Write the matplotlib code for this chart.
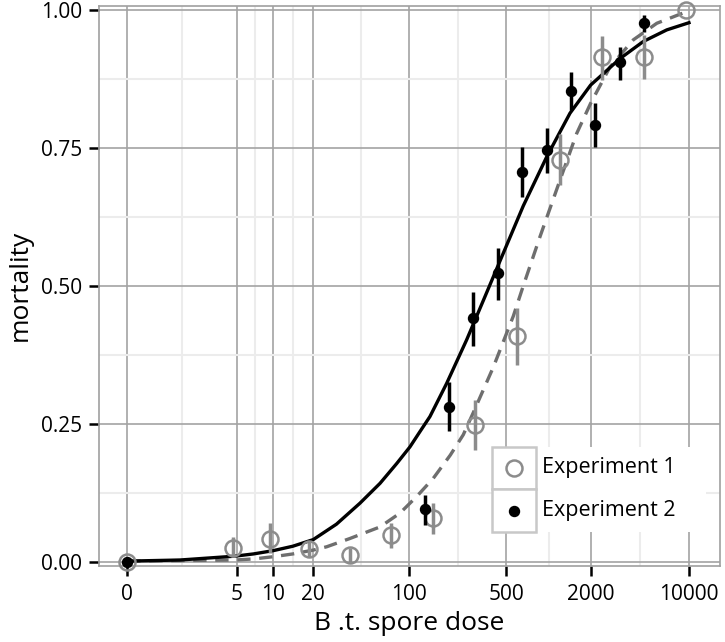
# Mortality vs B.t. spore dose, two experiments with fitted curves
import numpy as np
import matplotlib
matplotlib.use("Agg")
import matplotlib.pyplot as plt
from matplotlib.patches import Rectangle
from matplotlib.lines import Line2D

plt.rcParams['font.family'] = ['Open Sans', 'DejaVu Sans']

# experiment 1 (open grey circles)
dose1 = [0, 4.6875, 9.375, 18.75, 37.5, 75, 150, 300, 600, 1200, 2400, 4800, 9600]
mort1 = [0.0, 0.024, 0.042, 0.023, 0.012, 0.048, 0.080, 0.248, 0.409, 0.729, 0.914, 0.915, 1.0]
lo1 = [0.0, 0.009, 0.015, 0.009, 0.0, 0.024, 0.051, 0.203, 0.356, 0.683, 0.873, 0.875, 1.0]
hi1 = [0.0, 0.045, 0.070, 0.036, 0.024, 0.070, 0.106, 0.293, 0.459, 0.776, 0.953, 0.955, 1.0]

# experiment 2 (black dots)
dose2 = [0, 130, 195, 290, 435, 650, 970, 1450, 2150, 3230, 4800]
mort2 = [0.0, 0.095, 0.281, 0.441, 0.523, 0.707, 0.746, 0.854, 0.791, 0.906, 0.977]
lo2 = [0.0, 0.067, 0.236, 0.391, 0.474, 0.661, 0.704, 0.819, 0.752, 0.874, 0.961]
hi2 = [0.0, 0.121, 0.326, 0.489, 0.569, 0.752, 0.787, 0.887, 0.831, 0.933, 0.991]

# fitted curves
fit_dose1 = [0, 1.37, 4.85, 7, 9.96, 14.1, 20.1, 25.3, 37.5, 62.1, 86.5, 114, 150, 198.5,
             246, 290, 404, 560, 660, 868, 1207, 1584, 1994, 2741, 4017, 5901, 9600]
fit_mort1 = [0.001, 0.002, 0.003, 0.005, 0.009, 0.014, 0.021, 0.027, 0.042, 0.063, 0.088,
             0.118, 0.151, 0.193, 0.23, 0.27, 0.353, 0.445, 0.5, 0.589, 0.692, 0.776,
             0.831, 0.897, 0.946, 0.976, 0.997]
fit_dose2 = [0, 1.37, 4.85, 6.9, 9.96, 14.1, 20.1, 29.9, 44.4, 62.1, 82, 102, 120.6, 142,
             163, 187, 260, 343, 450, 660, 970, 1421, 1994, 3227, 4731, 6949, 10000]
fit_mort2 = [0.001, 0.003, 0.010, 0.014, 0.020, 0.028, 0.040, 0.068, 0.106, 0.142, 0.178,
             0.208, 0.236, 0.263, 0.293, 0.323, 0.402, 0.474, 0.545, 0.645, 0.734, 0.813,
             0.864, 0.912, 0.943, 0.964, 0.977]

xticks = [0, 5, 10, 20, 100, 500, 2000, 10000]
yticks = [0.0, 0.25, 0.5, 0.75, 1.0]
ylabels = ['0.00', '0.25', '0.50', '0.75', '1.00']
legend_labels = ['Experiment 1', 'Experiment 2']

grey_pt = '#8c8c8c'
grey_ln = '#6e6e6e'
grid_major = '#a3a3a3'
grid_minor = '#ececec'


def fwd(x):
    return np.log10(np.asarray(x) + 1.0)


def inv(y):
    return 10 ** np.asarray(y) - 1.0


fig = plt.figure(figsize=(7.25, 6.42), dpi=100)
ax = fig.add_axes([99.3 / 725, 1 - 565.7 / 642, 620.7 / 725, 559.7 / 642])
ax.set_xscale('function', functions=(fwd, inv))

# grid
ax.set_axisbelow(True)
ax.set_xticks(xticks)
ax.set_xticklabels([str(t) for t in xticks])
lt = fwd(xticks)
ax.set_xticks(inv((lt[:-1] + lt[1:]) / 2), minor=True)
ax.set_yticks(yticks)
ax.set_yticklabels(ylabels)
ax.set_yticks([0.125, 0.375, 0.625, 0.875], minor=True)
ax.grid(which='major', color=grid_major, lw=1.2)
ax.grid(which='minor', color=grid_minor, lw=1.5)

# fitted curves
ax.plot(fit_dose1, fit_mort1, color=grey_ln, lw=2.4, dashes=(4, 2.6), zorder=3)
ax.plot(fit_dose2, fit_mort2, color='black', lw=2.4, zorder=3)

# error bars
ax.vlines(dose1, lo1, hi1, color=grey_pt, lw=2.5, zorder=4)
ax.vlines(dose2, lo2, hi2, color='black', lw=2.5, zorder=5)

# points
ax.plot(dose1, mort1, 'o', ms=11.5, mfc='none', mec=grey_pt, mew=1.8,
        clip_on=False, zorder=4)
ax.plot(dose2, mort2, 'o', ms=7.2, color='black', clip_on=False, zorder=6)

ax.set_xlim(inv(-0.199), inv(4.221))
ax.set_ylim(-0.0073, 1.0073)

for s in ax.spines.values():
    s.set_color('#a0a0a0')
    s.set_linewidth(1.2)
ax.tick_params(which='major', length=7.5, width=1.8, color='black', labelsize=15,
               labelcolor='black')
ax.tick_params(axis='x', which='major', pad=6)
ax.tick_params(axis='y', which='major', pad=5)
ax.tick_params(which='minor', length=0)

ax.set_xlabel('B .t. spore dose', fontsize=19, labelpad=4)
ax.set_ylabel('mortality', fontsize=19, labelpad=6)

# legend with boxed keys
def fx(px):
    return px / 725


def fy(py):
    return 1 - py / 642


fig.patches.append(Rectangle((fx(492), fy(531.7)), fx(706) - fx(492), fy(446.7) - fy(531.7),
                             transform=fig.transFigure, facecolor='white', edgecolor='none',
                             zorder=7))
for top, bot in [(446.7, 489.3), (489.3, 531.7)]:
    fig.patches.append(Rectangle((fx(492), fy(bot)), fx(536) - fx(492), fy(top) - fy(bot),
                                 transform=fig.transFigure, facecolor='white',
                                 edgecolor='#c8c8c8', lw=1.8, zorder=8))
fig.lines.append(Line2D([fx(514)], [fy(468)], marker='o', ms=11.5, mfc='none', mec=grey_pt,
                        mew=1.8, transform=fig.transFigure, zorder=9))
fig.lines.append(Line2D([fx(514)], [fy(510.5)], marker='o', ms=7.2, color='black',
                        transform=fig.transFigure, zorder=9))
fig.text(fx(542), fy(468), legend_labels[0], fontsize=15.5, va='center', ha='left', zorder=9)
fig.text(fx(542), fy(510.5), legend_labels[1], fontsize=15.5, va='center', ha='left', zorder=9)

fig.savefig('out.png', dpi=100)
